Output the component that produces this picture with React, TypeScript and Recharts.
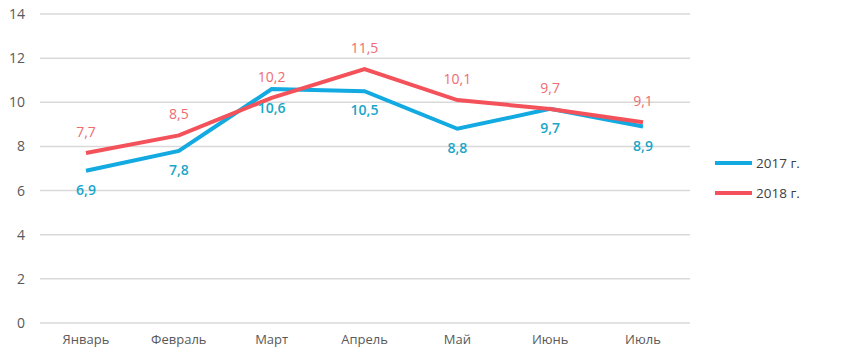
import { LineChart, Line, XAxis, YAxis, CartesianGrid, Legend, LabelList } from "recharts"

const months = ["Январь", "Февраль", "Март", "Апрель", "Май", "Июнь", "Июль"]
const values2017 = [6.9, 7.8, 10.6, 10.5, 8.8, 9.7, 8.9]
const values2018 = [7.7, 8.5, 10.2, 11.5, 10.1, 9.7, 9.1]
const yTicks = [0, 2, 4, 6, 8, 10, 12, 14]

const BLUE = "#13A9E1"
const RED = "#F4525A"
const FONT = "'Open Sans', sans-serif"

const data = months.map((m, i) => ({ month: m, y2017: values2017[i], y2018: values2018[i] }))

const fmt = (v: any) => String(v).replace(".", ",")

function LegendBox() {
  const items = [
    { name: "2017 г.", color: BLUE },
    { name: "2018 г.", color: RED },
  ]
  return (
    <div style={{ fontFamily: FONT, fontSize: 13.5, color: "#404040" }}>
      {items.map((it) => (
        <div key={it.name} style={{ display: "flex", alignItems: "center", height: 30 }}>
          <span style={{ display: "inline-block", width: 37, height: 4, background: it.color, marginRight: 4 }} />
          {it.name}
        </div>
      ))}
    </div>
  )
}

export default function App() {
  return (
    <div style={{ position: "absolute", left: 0, top: 0, width: 850, height: 357, background: "#fff" }}>
      <LineChart width={850} height={357} data={data} margin={{ top: 14, right: 40, bottom: 4, left: 0 }}>
        <CartesianGrid vertical={false} stroke="#D9D9D9" strokeWidth={1.5} />
        <XAxis
          dataKey="month"
          axisLine={false}
          tickLine={false}
          height={30}
          tickMargin={6}
          padding={{ left: 46, right: 47 }}
          tick={{ fontFamily: FONT, fontSize: 13, fill: "#595959" }}
        />
        <YAxis
          domain={[0, 14]}
          ticks={yTicks}
          width={40}
          axisLine={false}
          tickLine={false}
          tickMargin={9}
          tick={{ fontFamily: FONT, fontSize: 14, fill: "#595959" }}
        />
        <Legend
          layout="vertical"
          align="right"
          verticalAlign="top"
          content={() => <LegendBox />}
          wrapperStyle={{ left: 715, top: 148, width: 120 }}
        />
        <Line
          dataKey="y2017"
          name="2017 г."
          stroke={BLUE}
          strokeWidth={4}
          dot={false}
          isAnimationActive={false}
        >
          <LabelList
            dataKey="y2017"
            position="bottom"
            offset={14}
            formatter={fmt}
            style={{ fontFamily: FONT, fontSize: 14, fill: "#1AA6C8", fontWeight: 600 }}
          />
        </Line>
        <Line
          dataKey="y2018"
          name="2018 г."
          stroke={RED}
          strokeWidth={4}
          dot={false}
          isAnimationActive={false}
        >
          <LabelList
            dataKey="y2018"
            position="top"
            offset={16}
            formatter={fmt}
            style={{ fontFamily: FONT, fontSize: 14, fill: "#EF6B72" }}
          />
        </Line>
      </LineChart>
    </div>
  )
}
